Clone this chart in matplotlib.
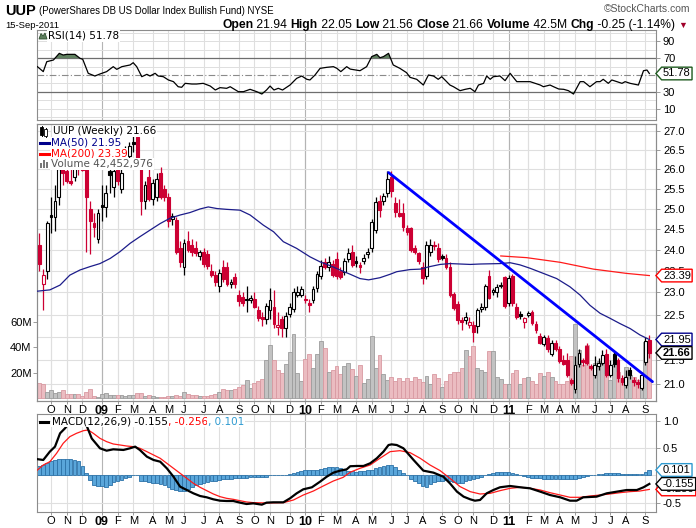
import numpy as np
import pandas as pd
import matplotlib
matplotlib.use("Agg")
import matplotlib.pyplot as plt
from matplotlib import transforms
from matplotlib.path import Path
from matplotlib.lines import Line2D
from matplotlib.patches import Rectangle, Polygon
from matplotlib.ticker import FixedLocator, NullLocator, FuncFormatter

# ---------------- data (weekly bars, UUP) ----------------
START_DATE = "2008-09-15"

OPEN = [24.10, 23.20, 23.50, 24.85, 24.78, 25.30, 26.20, 25.95, 25.70, 25.80,
        26.35, 26.10, 26.00, 25.00, 24.65, 24.25, 25.10, 25.05, 25.95, 25.55,
        26.10, 25.50, 26.50, 26.35, 26.72, 26.85, 26.00, 25.20, 25.80, 25.25,
        25.30, 25.90, 25.50, 25.30, 24.75, 24.72, 24.05, 23.60, 24.20, 24.10,
        24.05, 23.85, 23.95, 23.90, 23.50, 23.40, 23.15, 23.60, 23.60, 23.20,
        23.35, 22.95, 22.90, 22.85, 22.82, 22.85, 22.60, 22.45, 22.40, 22.60,
        22.67, 22.23, 22.41, 22.20, 22.52, 22.63, 22.95, 22.95, 22.85, 22.75,
        22.83, 23.10, 23.37, 23.70, 23.60, 23.65, 23.78, 23.50, 23.48, 23.78,
        23.95, 23.74, 23.64, 23.74, 23.90, 24.05, 24.47, 25.20, 25.20, 25.40,
        25.80, 25.14, 24.90, 24.88, 24.51, 24.51, 24.03, 23.91, 23.60, 23.39,
        23.95, 24.10, 24.03, 23.85, 23.81, 23.60, 22.96, 22.73, 22.39, 22.38,
        22.28, 22.28, 22.25, 22.62, 22.68, 23.38, 23.02, 23.00, 23.15, 23.35,
        22.75, 23.38, 22.68, 22.52, 22.34, 22.49, 22.56, 22.30, 22.02, 21.86,
        21.98, 21.64, 21.88, 21.74, 21.50, 21.50, 21.08, 20.90, 21.43, 21.50,
        21.82, 21.38, 21.20, 21.38, 21.44, 21.63, 21.19, 21.63, 21.50, 21.12,
        20.98, 21.30, 21.08, 21.05, 20.92, 21.47, 21.94]
HIGH = [24.40, 23.55, 24.70, 25.30, 25.60, 26.35, 26.55, 26.15, 26.45, 26.70,
        26.55, 26.60, 26.20, 25.20, 24.90, 25.00, 25.60, 25.60, 26.20, 26.10,
        26.25, 26.00, 26.60, 26.70, 26.90, 27.05, 26.10, 25.70, 26.00, 25.75,
        25.90, 26.05, 25.60, 25.40, 24.90, 24.80, 24.20, 24.25, 24.45, 24.25,
        24.20, 24.00, 24.05, 24.00, 23.65, 23.50, 23.55, 23.75, 23.70, 23.30,
        23.45, 23.05, 23.00, 23.15, 22.95, 23.00, 22.70, 22.55, 22.75, 23.10,
        23.05, 22.55, 22.48, 22.55, 22.75, 23.10, 23.15, 23.15, 22.95, 22.85,
        23.15, 23.50, 23.75, 23.80, 23.85, 23.75, 23.95, 23.60, 23.80, 24.05,
        24.10, 23.85, 23.70, 23.90, 24.05, 24.75, 25.30, 25.35, 25.40, 25.95,
        25.95, 25.30, 25.25, 25.15, 24.60, 24.55, 24.10, 23.95, 23.70, 24.20,
        24.25, 24.20, 24.15, 23.90, 23.90, 23.70, 23.00, 22.80, 22.45, 22.55,
        22.45, 22.35, 22.65, 22.75, 23.20, 23.52, 23.10, 23.20, 23.25, 23.38,
        23.40, 23.42, 22.75, 22.58, 22.45, 22.58, 22.60, 22.35, 22.10, 22.05,
        22.05, 21.95, 21.95, 21.80, 21.62, 21.65, 21.12, 21.60, 21.75, 21.55,
        21.88, 21.42, 21.60, 21.55, 21.72, 21.75, 21.50, 21.70, 21.55, 21.20,
        21.30, 21.35, 21.15, 21.10, 21.25, 22.00, 22.05]
LOW = [23.50, 22.60, 23.30, 24.40, 24.45, 25.10, 25.60, 25.65, 25.60, 25.70,
       25.85, 25.95, 23.95, 23.90, 24.30, 24.15, 24.70, 24.80, 25.40, 25.30,
       25.60, 25.40, 26.10, 26.20, 26.45, 26.15, 24.85, 25.00, 25.20, 25.10,
       25.20, 25.25, 25.20, 24.55, 24.60, 23.90, 23.60, 23.40, 23.95, 23.85,
       23.85, 23.75, 23.60, 23.55, 23.35, 23.15, 23.00, 23.25, 23.15, 23.10,
       23.10, 22.70, 22.70, 22.55, 22.75, 22.65, 22.35, 22.25, 22.30, 22.40,
       22.20, 22.05, 22.00, 22.00, 22.45, 22.55, 22.90, 22.90, 22.75, 22.55,
       22.75, 23.00, 23.30, 23.55, 23.50, 23.35, 23.30, 23.30, 23.40, 23.70,
       23.60, 23.60, 23.45, 23.65, 23.80, 23.95, 24.40, 24.80, 25.10, 25.30,
       25.30, 24.80, 24.80, 24.45, 24.35, 23.95, 23.90, 23.65, 23.20, 23.30,
       23.85, 24.00, 23.70, 23.75, 23.55, 22.90, 22.60, 22.30, 22.16, 22.30,
       22.20, 21.90, 22.10, 22.55, 22.60, 22.85, 22.95, 22.90, 23.10, 22.65,
       22.70, 22.70, 22.40, 22.40, 22.20, 22.45, 22.28, 22.10, 21.85, 21.80,
       21.68, 21.60, 21.70, 21.45, 21.40, 21.15, 20.98, 20.82, 21.35, 21.38,
       21.40, 21.30, 21.12, 21.30, 21.40, 21.15, 21.15, 21.35, 21.05, 20.98,
       20.92, 21.10, 20.95, 20.92, 20.88, 21.40, 21.56]
CLOSE = [23.65, 23.40, 24.65, 24.78, 25.20, 26.00, 25.90, 25.70, 25.65, 26.40,
         26.00, 25.98, 25.30, 24.70, 24.55, 24.90, 25.05, 25.40, 25.85, 25.95,
         25.70, 25.90, 26.35, 26.60, 26.65, 26.20, 25.20, 25.60, 25.25, 25.65,
         25.75, 25.30, 25.28, 24.70, 24.82, 23.95, 23.70, 24.15, 24.00, 23.95,
         23.92, 23.95, 23.65, 23.62, 23.40, 23.25, 23.45, 23.30, 23.20, 23.25,
         23.20, 22.80, 22.75, 22.82, 22.88, 22.68, 22.43, 22.40, 22.70, 22.83,
         22.30, 22.28, 22.20, 22.47, 22.66, 23.00, 23.02, 23.08, 22.82, 22.71,
         23.08, 23.43, 23.62, 23.60, 23.70, 23.41, 23.38, 23.35, 23.72, 23.93,
         23.64, 23.68, 23.60, 23.81, 23.95, 24.67, 25.16, 24.96, 25.32, 25.75,
         25.43, 24.92, 24.82, 24.55, 24.43, 24.00, 23.95, 23.72, 23.33, 24.10,
         24.12, 24.08, 23.78, 23.80, 23.60, 22.95, 22.64, 22.38, 22.34, 22.45,
         22.34, 22.12, 22.60, 22.68, 23.15, 22.88, 23.06, 23.12, 23.18, 22.70,
         23.33, 22.77, 22.44, 22.47, 22.43, 22.53, 22.32, 22.16, 21.88, 22.00,
         21.75, 21.88, 21.74, 21.48, 21.43, 21.20, 21.03, 21.40, 21.66, 21.47,
         21.45, 21.34, 21.40, 21.44, 21.62, 21.19, 21.40, 21.42, 21.12, 21.05,
         21.15, 21.20, 21.04, 21.01, 21.20, 21.91, 21.66]
VOLUME_M = [12.2, 11.5, 5.2, 7.0, 4.4, 5.2, 7.0, 3.6, 3.6, 3.6,
            3.6, 1.8, 5.2, 7.6, 2.3, 1.3, 3.6, 4.4, 2.9, 2.9,
            2.9, 2.9, 2.0, 2.9, 2.9, 4.4, 4.4, 2.0, 2.9, 2.0,
            1.3, 1.3, 1.3, 2.0, 2.0, 2.9, 2.0, 5.2, 3.6, 2.9,
            2.9, 2.0, 2.0, 2.0, 2.9, 3.6, 5.2, 7.6, 7.0, 6.3,
            7.6, 8.9, 10.2, 14.6, 8.3, 12.2, 13.3, 15.3, 30.2, 42.2,
            30.2, 22.4, 20.0, 27.1, 36.5, 50.8, 20.0, 13.3, 30.9, 35.2,
            23.9, 35.2, 45.1, 39.6, 21.0, 22.4, 25.8, 18.8, 25.8, 27.9,
            23.0, 17.5, 26.0, 12.0, 15.0, 49.0, 24.0, 34.4, 18.8, 14.8,
            17.0, 14.0, 16.0, 13.5, 16.0, 14.0, 16.5, 15.0, 13.0, 18.0,
            11.5, 18.8, 16.0, 8.8, 13.5, 18.8, 20.5, 21.0, 24.0, 38.0,
            33.5, 41.4, 24.0, 22.0, 20.5, 37.5, 37.0, 16.5, 15.5, 11.5,
            11.0, 20.0, 22.0, 11.0, 16.0, 17.0, 14.0, 11.5, 20.0, 17.5,
            20.5, 17.0, 14.0, 11.0, 11.0, 13.5, 33.0, 58.5, 38.0, 26.0,
            42.0, 25.0, 28.0, 29.0, 27.0, 19.0, 14.5, 27.0, 21.0, 14.5,
            24.5, 18.5, 17.0, 14.5, 16.0, 44.0, 42.45]

MA50_WEEK = [-0.5, 2.7, 5.3, 7.8, 10.4, 13.0, 15.5, 18.1, 20.6, 23.2,
             25.7, 28.3, 30.9, 33.4, 36.0, 38.5, 41.1, 43.2, 45.4, 47.9,
             51.3, 53.9, 57.3, 59.9, 62.4, 65.8, 69.2, 71.8, 74.4, 76.9,
             79.5, 82.0, 84.2, 87.1, 89.7, 91.4, 94.8, 97.4, 99.9, 102.5,
             105.0, 110.2, 112.7, 117.8, 120.4, 122.9, 125.5, 128.9, 132.3, 135.7,
             138.3, 140.8, 143.4, 145.9, 148.5, 151.1, 153.6, 156.0]
MA50_VAL = [23.03, 23.06, 23.17, 23.40, 23.52, 23.60, 23.67, 23.79, 23.95, 24.15,
            24.31, 24.47, 24.63, 24.76, 24.84, 24.90, 24.99, 25.04, 25.00, 24.98,
            24.96, 24.84, 24.59, 24.43, 24.19, 24.03, 23.83, 23.71, 23.62, 23.52,
            23.42, 23.32, 23.29, 23.34, 23.42, 23.48, 23.53, 23.54, 23.60, 23.65,
            23.67, 23.65, 23.66, 23.67, 23.69, 23.64, 23.56, 23.44, 23.32, 23.13,
            22.94, 22.71, 22.53, 22.42, 22.30, 22.19, 22.05, 21.95]
MA200_WEEK = [118.0, 124.6, 133.2, 141.7, 150.2, 156.0]
MA200_VAL = [23.85, 23.81, 23.70, 23.54, 23.44, 23.39]

TREND_WEEK = [89.3, 156.8]
TREND_PRICE = [25.91, 21.05]

RSI_WEEK = [-0.5, 1.0, 1.9, 3.6, 5.1, 6.1, 7.0, 9.1, 10.4, 11.1,
            12.5, 14.2, 15.5, 17.2, 18.9, 19.8, 21.1, 23.2, 24.0, 24.9,
            26.2, 27.5, 28.3, 29.6, 30.4, 31.7, 33.0, 34.3, 35.5, 36.4,
            37.3, 39.0, 40.2, 41.9, 43.7, 45.0, 46.2, 47.9, 48.8, 50.9,
            52.2, 53.9, 55.6, 56.9, 58.1, 59.0, 60.0, 61.1, 62.2, 64.1,
            65.8, 67.1, 68.4, 69.2, 70.5, 71.8, 73.5, 75.2, 76.1, 77.1,
            78.6, 79.5, 82.0, 83.7, 85.0, 86.3, 87.1, 88.0, 89.3, 90.5,
            92.2, 93.9, 94.8, 96.5, 98.2, 99.5, 100.8, 102.0, 102.9, 105.0,
            105.9, 107.6, 108.9, 110.2, 111.4, 112.3, 113.6, 114.4, 115.3, 116.1,
            117.8, 119.1, 120.4, 122.1, 123.8, 125.5, 126.8, 128.1, 128.9, 130.6,
            131.5, 132.8, 134.1, 135.3, 136.6, 138.3, 139.2, 140.8, 142.5, 143.4,
            144.2, 145.5, 146.4, 147.7, 149.0, 149.8, 151.1, 153.2, 154.5, 155.4,
            156.0]
RSI_VAL = [59.9, 54.0, 65.8, 67.8, 75.7, 73.7, 74.5, 74.5, 69.8, 68.6,
           52.0, 48.8, 51.2, 54.0, 59.9, 56.7, 59.9, 61.9, 64.6, 59.9,
           48.0, 50.8, 48.8, 52.0, 48.8, 48.0, 44.1, 42.1, 36.1, 35.4,
           40.1, 39.3, 39.3, 40.1, 36.9, 32.2, 35.0, 34.2, 36.1, 30.2,
           30.2, 33.0, 30.2, 27.4, 32.2, 36.9, 32.2, 34.2, 32.2, 38.1,
           46.0, 48.8, 44.9, 44.1, 50.0, 57.9, 59.1, 59.9, 57.9, 54.0,
           59.9, 57.0, 55.1, 59.9, 71.8, 74.5, 70.5, 71.8, 75.7, 61.9,
           57.9, 52.8, 47.2, 44.9, 38.1, 50.0, 48.8, 44.9, 48.0, 38.1,
           36.1, 31.4, 33.0, 34.2, 30.2, 38.1, 40.1, 48.8, 44.9, 48.0,
           48.8, 43.3, 52.0, 42.1, 42.1, 42.1, 40.1, 38.1, 36.1, 38.1,
           36.1, 33.4, 33.0, 31.4, 27.4, 42.1, 42.1, 36.1, 42.1, 42.1,
           44.9, 40.1, 44.1, 42.1, 40.1, 42.1, 40.1, 38.1, 55.1, 55.9,
           51.78]

MACD_WEEK = [-0.5, 1.0, 2.7, 4.0, 5.3, 6.6, 8.0, 9.5, 11.0, 11.9,
             13.4, 15.5, 17.2, 18.9, 21.5, 23.2, 24.5, 25.7, 27.5, 29.2,
             30.9, 32.6, 34.3, 36.0, 37.7, 39.4, 41.1, 42.8, 44.5, 46.2,
             47.9, 49.6, 51.3, 53.0, 54.7, 56.9, 58.1, 59.8, 62.4, 64.1,
             65.8, 67.5, 69.7, 71.8, 73.5, 75.2, 76.9, 78.6, 79.5, 81.2,
             82.9, 84.6, 86.3, 88.0, 89.3, 90.1, 91.4, 93.1, 95.7, 98.2,
             100.8, 103.3, 105.0, 106.8, 108.5, 110.2, 111.4, 112.7, 114.4, 116.1,
             117.8, 120.4, 123.0, 125.5, 128.1, 130.6, 133.2, 135.7, 137.4, 139.1,
             142.5, 145.1, 147.7, 150.2, 152.8, 154.5, 156.0]
MACD_VAL = [0.30, 0.285, 0.44, 0.53, 0.775, 0.87, 1.00, 1.06, 1.02, 0.95,
            0.68, 0.50, 0.456, 0.481, 0.469, 0.50, 0.53, 0.469, 0.346, 0.285,
            0.254, 0.132, -0.022, -0.205, -0.267, -0.328, -0.377, -0.401, -0.438, -0.463,
            -0.469, -0.469, -0.499, -0.524, -0.512, -0.536, -0.499, -0.493, -0.493, -0.42,
            -0.328, -0.254, -0.217, -0.113, -0.022, 0.052, 0.089, 0.113, 0.17, 0.175,
            0.175, 0.224, 0.316, 0.438, 0.56, 0.572, 0.56, 0.50, 0.285, 0.089,
            0.052, -0.022, -0.144, -0.297, -0.389, -0.438, -0.463, -0.450, -0.328, -0.267,
            -0.217, -0.193, -0.217, -0.236, -0.297, -0.359, -0.401, -0.463, -0.463, -0.401,
            -0.389, -0.328, -0.297, -0.267, -0.267, -0.217, -0.155]
SIGNAL_WEEK = [-0.5, 1.0, 2.7, 4.4, 6.1, 7.8, 9.5, 11.3, 12.5, 13.8,
               15.5, 17.2, 18.9, 20.6, 22.3, 24.0, 25.7, 27.5, 29.2, 30.9,
               32.6, 34.3, 36.0, 37.7, 39.4, 41.1, 42.8, 44.5, 46.2, 47.9,
               49.6, 51.3, 53.0, 54.7, 58.1, 62.4, 65.0, 67.5, 70.1, 72.6,
               75.2, 77.7, 79.5, 82.0, 84.6, 87.1, 89.7, 92.2, 94.8, 97.4,
               99.9, 102.5, 105.0, 107.6, 110.2, 112.7, 115.3, 117.8, 120.4, 123.0,
               125.5, 128.1, 130.6, 133.2, 135.7, 138.3, 140.8, 143.4, 145.9, 148.5,
               151.0, 153.6, 156.0]
SIGNAL_VAL = [0.10, 0.193, 0.254, 0.407, 0.591, 0.714, 0.775, 0.824, 0.836, 0.775,
              0.683, 0.622, 0.579, 0.561, 0.542, 0.530, 0.50, 0.438, 0.377, 0.316,
              0.224, 0.132, 0.040, -0.052, -0.144, -0.217, -0.279, -0.340, -0.389, -0.42,
              -0.438, -0.463, -0.487, -0.499, -0.505, -0.499, -0.450, -0.359, -0.285, -0.193,
              -0.101, -0.034, 0.06, 0.132, 0.193, 0.316, 0.438, 0.456, 0.420, 0.316,
              0.193, 0.089, -0.052, -0.205, -0.297, -0.340, -0.328, -0.279, -0.236, -0.217,
              -0.236, -0.267, -0.316, -0.359, -0.401, -0.401, -0.377, -0.359, -0.340, -0.316,
              -0.297, -0.285, -0.256]
HIST = [0.17, 0.20, 0.23, 0.26, 0.28, 0.31, 0.31, 0.31, 0.30, 0.29,
        0.26, 0.17, 0.05, -0.08, -0.17, -0.19, -0.20, -0.21, -0.17, -0.12,
        -0.10, -0.08, -0.05, -0.03, 0.0, 0.0, -0.10, -0.11, -0.12, -0.13,
        -0.14, -0.16, -0.17, -0.21, -0.24, -0.27, -0.29, -0.28, -0.24, -0.21,
        -0.18, -0.16, -0.13, -0.12, -0.10, -0.10, -0.09, -0.07, -0.06, -0.06,
        -0.05, -0.04, -0.04, -0.04, -0.03, -0.03, -0.03, -0.03, -0.02, 0.0,
        0.0, 0.0, 0.0, 0.01, 0.03, 0.05, 0.07, 0.09, 0.10, 0.10,
        0.10, 0.10, 0.12, 0.14, 0.15, 0.15, 0.15, 0.13, 0.11, 0.09,
        0.08, 0.07, 0.08, 0.09, 0.10, 0.11, 0.13, 0.15, 0.17, 0.20,
        0.19, 0.15, 0.10, 0.05, 0.0, -0.06, -0.10, -0.14, -0.19, -0.21,
        -0.15, -0.12, -0.11, -0.10, -0.08, -0.10, -0.12, -0.13, -0.13, -0.10,
        -0.08, -0.06, -0.04, -0.02, 0.0, 0.02, 0.04, 0.06, 0.07, 0.07,
        0.06, 0.05, 0.03, 0.0, -0.01, -0.02, -0.04, -0.05, -0.05, -0.06,
        -0.06, -0.07, -0.07, -0.07, -0.07, -0.07, -0.07, -0.07, -0.05, -0.02,
        -0.01, 0.0, 0.0, 0.02, 0.03, 0.04, 0.04, 0.05, 0.04, 0.03,
        0.03, 0.03, 0.03, 0.03, 0.03, 0.07, 0.101]

# ---------------- styling ----------------
W, H = 696, 528
RED = "#cc0033"
NAVY = "#1c1c8a"
GRID = "#dfdfdf"
YEAR_GRID = "#b4b4b4"
SPINE = "#8c8c8c"
SANS = ["Liberation Sans", "DejaVu Sans"]
LEG = ["DejaVu Sans"]
XLIM = (-0.6, 157.7)

fig = plt.figure(figsize=(W / 100, H / 100), dpi=100)
fig.patch.set_facecolor("white")


def rect(x0, y0, x1, y1):
    return [x0 / W, 1 - y1 / H, (x1 - x0) / W, (y1 - y0) / H]


def fxy(x, y):
    return x / W, 1 - y / H


def tag_box(x0, y0, width, height, mutation_size):
    pad = mutation_size * 0.12
    x0, y0 = x0 - pad, y0 - pad
    w, h = width + 2 * pad, height + 2 * pad
    tip = h * 0.45
    verts = [(x0 - tip, y0 + h / 2), (x0, y0), (x0 + w, y0), (x0 + w, y0 + h),
             (x0, y0 + h), (x0 - tip, y0 + h / 2)]
    return Path(verts, [Path.MOVETO] + [Path.LINETO] * 4 + [Path.CLOSEPOLY])


def value_tag(a, yval, label, edge, bold=False):
    a.annotate(label, xy=(1.0, yval), xycoords=("axes fraction", "data"),
               xytext=(5, 0), textcoords="offset points", ha="left", va="center",
               fontsize=8, family=SANS, fontweight="bold" if bold else "normal",
               annotation_clip=False, zorder=10,
               bbox=dict(boxstyle=tag_box, fc="white", ec=edge, lw=1.0))


weeks = np.arange(len(CLOSE))
dates = pd.date_range(START_DATE, periods=len(CLOSE), freq="W-MON")
month_pos, month_lab, month_year = [], [], []
for i in range(1, len(dates)):
    if dates[i].month != dates[i - 1].month:
        month_pos.append(i)
        if dates[i].month == 1:
            month_lab.append(dates[i].strftime("%y"))
            month_year.append(True)
        else:
            month_lab.append(dates[i].strftime("%b")[0])
            month_year.append(False)


def panel(a, grid_axes=None):
    a.set_xlim(*XLIM)
    for s in a.spines.values():
        s.set_color(SPINE)
        s.set_linewidth(0.8)
    g = grid_axes if grid_axes is not None else a
    for p, yr in zip(month_pos, month_year):
        g.axvline(p, color=YEAR_GRID if yr else GRID, lw=0.8, zorder=0)


def month_labels(a):
    a.set_xticks(month_pos)
    a.set_xticklabels(month_lab)
    a.tick_params(axis="x", length=2, width=0.6, color=SPINE, pad=1.0, labelsize=8)
    for lbl, yr in zip(a.get_xticklabels(), month_year):
        lbl.set_family(SANS)
        if yr:
            lbl.set_fontweight("bold")
            lbl.set_fontsize(9)


# ---------------- RSI panel ----------------
ax_rsi = fig.add_axes(rect(37, 30, 656, 120))
panel(ax_rsi)
ax_rsi.set_ylim(-3.4, 103.4)
for lvl in range(0, 101, 10):
    if lvl in (30, 70):
        ax_rsi.axhline(lvl, color="#6e6e6e", lw=0.9, zorder=1)
    elif lvl == 50:
        ax_rsi.axhline(lvl, color="#8a8a8a", lw=0.8, ls=(0, (6, 2, 1, 2)), zorder=1)
    else:
        ax_rsi.axhline(lvl, color=GRID, lw=0.7, zorder=0)
rsi_w = np.array(RSI_WEEK)
rsi_v = np.array(RSI_VAL)
ax_rsi.fill_between(rsi_w, rsi_v, 70, where=rsi_v > 70, interpolate=True,
                    color="#5f805f", lw=0, zorder=2)
ax_rsi.fill_between(rsi_w, rsi_v, 30, where=rsi_v < 30, interpolate=True,
                    color="#5f805f", lw=0, zorder=2)
ax_rsi.plot(rsi_w, rsi_v, color="black", lw=0.9, zorder=3)
ax_rsi.set_xticks([])
ax_rsi.yaxis.tick_right()
ax_rsi.set_yticks([90, 70, 30, 10])
ax_rsi.tick_params(axis="y", length=3, width=0.6, color=SPINE, pad=2, labelsize=8)
for lbl in ax_rsi.get_yticklabels():
    lbl.set_family(SANS)
fig.text(*fxy(48, 36), "RSI(14) 51.78", ha="left", va="center", fontsize=7.5,
         family=LEG, bbox=dict(fc="white", ec="none", pad=0.6), zorder=20)
fig.add_artist(Polygon([fxy(39, 39), fxy(41, 33.5), fxy(43, 36), fxy(45, 33), fxy(47, 39)],
                       closed=True, fc="#5f805f", ec="#2f4f2f", lw=0.6,
                       transform=fig.transFigure, zorder=21))
value_tag(ax_rsi, RSI_VAL[-1], "51.78", "#1e5a1e")

# ---------------- price + volume panel ----------------
ax_vol = fig.add_axes(rect(37, 124, 656, 401))
ax = fig.add_axes(rect(37, 124, 656, 401), sharex=ax_vol)
ax.patch.set_visible(False)
panel(ax_vol)
panel(ax, grid_axes=ax_vol)

ax.set_yscale("log")
ax.set_ylim(20.65, 27.19)
price_ticks = np.arange(21.0, 27.01, 0.5)
ax.yaxis.set_major_locator(FixedLocator(price_ticks))
ax.yaxis.set_minor_locator(NullLocator())
# the 22.0 label sits fully under the MA(50) value tag, as in the original
ax.yaxis.set_major_formatter(FuncFormatter(lambda v, _: "" if abs(v - 22.0) < 1e-6 else f"{v:.1f}"))
ax.yaxis.tick_right()
ax.tick_params(axis="y", length=3, width=0.6, color=SPINE, pad=2, labelsize=8)
for lbl in ax.get_yticklabels():
    lbl.set_family(SANS)
ax.tick_params(axis="x", bottom=False, labelbottom=False)

trans_grid = transforms.blended_transform_factory(ax_vol.transAxes, ax.transData)
for p in price_ticks:
    ax_vol.plot([0, 1], [p, p], transform=trans_grid, color=GRID, lw=0.8, zorder=0)

o = np.array(OPEN)
h = np.array(HIGH)
l = np.array(LOW)
c = np.array(CLOSE)
prev_close = np.r_[o[0], c[:-1]]
is_red = c < prev_close
hollow = c > o
col = np.where(is_red, RED, "black")

vol = np.array(VOLUME_M)
ax_vol.set_ylim(-2.0, 215.3)
ax_vol.bar(weeks, vol, width=1.0,
           color=np.where(is_red, "#ebbcc1", "#c2c2c2"),
           edgecolor=np.where(is_red, "#d99aa2", "#9c9c9c"), linewidth=0.6, zorder=1)
ax_vol.yaxis.tick_left()
ax_vol.set_yticks([20, 40, 60])
ax_vol.set_yticklabels(["20M", "40M", "60M"])
ax_vol.tick_params(axis="y", length=3, width=0.6, color=SPINE, pad=1, labelsize=8)
for lbl in ax_vol.get_yticklabels():
    lbl.set_family(SANS)
month_labels(ax_vol)

ax.vlines(weeks, l, h, colors=col, lw=0.9, zorder=2)
body_lo = np.minimum(o, c)
body_h = np.maximum(np.abs(c - o), 0.012)
ax.bar(weeks, body_h, bottom=body_lo, width=0.72,
       color=np.where(hollow, "white", col), edgecolor=col, linewidth=0.8, zorder=3)

ax.plot(MA50_WEEK, MA50_VAL, color=NAVY, lw=0.9, zorder=4)
ax.plot(MA200_WEEK, MA200_VAL, color="#ff1a1a", lw=0.9, zorder=4)
ax.plot(TREND_WEEK, TREND_PRICE, color="#0000ff", lw=2.0, zorder=5, solid_capstyle="round")

leg_box = dict(fc="white", ec="none", pad=0.5)
legend_lines = [
    ("UUP (Weekly) 21.66", "black", 131.5, 53),
    ("MA(50) 21.95", "#00008b", 142.5, 51),
    ("MA(200) 23.39", "#ff0000", 153.5, 51),
    ("Volume 42,452,976", "#555555", 164.0, 51),
]
for txt, tc, ypx, xpx in legend_lines:
    fig.text(*fxy(xpx, ypx), txt, ha="left", va="center", fontsize=7.5, family=LEG,
             color=tc, bbox=leg_box, zorder=20)
# legend icons
for x0, top, bot, fill in [(41.5, 127, 135, "black"), (45.5, 129, 136, "white")]:
    fig.add_artist(Line2D([fxy(x0, 0)[0]] * 2, [fxy(0, top - 1)[1], fxy(0, bot + 1)[1]],
                          color="black", lw=0.7, transform=fig.transFigure, zorder=21))
    fig.add_artist(Rectangle(fxy(x0 - 1.2, bot), 2.4 / W, (bot - top) / H, fc=fill,
                             ec="black", lw=0.6, transform=fig.transFigure, zorder=22))
for ypx, lc in [(142.5, "#00008b"), (153.5, "#ff0000")]:
    fig.add_artist(Line2D([fxy(40, 0)[0], fxy(49, 0)[0]], [fxy(0, ypx)[1]] * 2,
                          color=lc, lw=2.2, transform=fig.transFigure, zorder=21))
for xb, hb in [(41, 5), (44, 8), (47, 6)]:
    fig.add_artist(Rectangle(fxy(xb - 1, 168), 2.2 / W, hb / H, fc="#777777", ec="none",
                             transform=fig.transFigure, zorder=21))

value_tag(ax, MA200_VAL[-1], "23.39", "#ff0000")
value_tag(ax, MA50_VAL[-1], "21.95", "#00008b")
value_tag(ax, CLOSE[-1], "21.66", "black", bold=True)

# ---------------- MACD panel ----------------
ax_macd = fig.add_axes(rect(37, 414, 656, 512))
panel(ax_macd)
ax_macd.set_ylim(-0.671, 1.13)
for lvl in (-0.5, 0.0, 0.5, 1.0):
    ax_macd.axhline(lvl, color=GRID, lw=0.8, zorder=0)
ax_macd.bar(weeks, HIST, width=0.95, color="#5aa6da", edgecolor="#2c72a8",
            linewidth=0.6, zorder=2)
ax_macd.plot(SIGNAL_WEEK, SIGNAL_VAL, color="#ff1a1a", lw=0.9, zorder=3)
ax_macd.plot(MACD_WEEK, MACD_VAL, color="black", lw=1.6, zorder=4)
ax_macd.yaxis.tick_right()
ax_macd.set_yticks([1.0, 0.5, -0.5])
ax_macd.set_yticklabels(["1.0", "0.5", "-0.5"])
ax_macd.tick_params(axis="y", length=3, width=0.6, color=SPINE, pad=2, labelsize=8)
for lbl in ax_macd.get_yticklabels():
    lbl.set_family(SANS)
month_labels(ax_macd)

macd_box = dict(fc="white", ec="none", pad=0.5)
fig.add_artist(Line2D([fxy(40, 0)[0], fxy(48, 0)[0]], [fxy(0, 421.5)[1]] * 2,
                      color="black", lw=2.2, transform=fig.transFigure, zorder=21))
m1 = fig.text(*fxy(52, 421.5), "MACD(12,26,9) -0.155", ha="left", va="center",
              fontsize=7.5, family=LEG, color="black", bbox=macd_box, zorder=20)
m2 = ax_macd.annotate(", -0.256", xy=(1, 0), xycoords=m1, ha="left", va="bottom",
                      fontsize=7.5, family=LEG, color="#ff0000", bbox=macd_box,
                      annotation_clip=False, zorder=20)
m3 = ax_macd.annotate(", 0.101", xy=(1, 0), xycoords=m2, ha="left", va="bottom",
                      fontsize=7.5, family=LEG, color="#2e9ad0", bbox=macd_box,
                      annotation_clip=False, zorder=20)

value_tag(ax_macd, SIGNAL_VAL[-1], "-0.256", "#ff0000")
value_tag(ax_macd, HIST[-1], "0.101", "#2e9ad0")
value_tag(ax_macd, MACD_VAL[-1], "-0.155", "black")

# ---------------- header ----------------
fig.text(*fxy(5, 15), "UUP", ha="left", va="baseline", fontsize=10.5,
         fontweight="bold", family=SANS)
fig.text(*fxy(39, 14), "(PowerShares DB US Dollar Index Bullish Fund) NYSE", ha="left",
         va="baseline", fontsize=6.9, family=SANS)
fig.text(*fxy(690, 12.5), "\u00a9StockCharts.com", ha="right", va="baseline",
         fontsize=7.5, family=SANS, color="#555555")
fig.text(*fxy(5, 28), "15-Sep-2011", ha="left", va="baseline", fontsize=6.8, family=SANS)

pieces = [("Open", "bold"), (" 21.94 ", "normal"), ("High", "bold"), (" 22.05 ", "normal"),
          ("Low", "bold"), (" 21.56 ", "normal"), ("Close", "bold"), (" 21.66 ", "normal"),
          ("Volume", "bold"), (" 42.5M ", "normal"), ("Chg", "bold"),
          (" -0.25 (-1.14%)", "normal")]
prev = fig.text(*fxy(675, 28), pieces[-1][0], ha="right", va="baseline", fontsize=8.7,
                fontweight=pieces[-1][1], family=SANS)
for txt, wt in reversed(pieces[:-1]):
    prev = ax_rsi.annotate(txt, xy=(0, 0), xycoords=prev, ha="right", va="bottom",
                           fontsize=8.7, fontweight=wt, family=SANS, annotation_clip=False)
fig.text(*fxy(678, 28), "\u25bc", ha="left", va="baseline", fontsize=6.5,
         color="#a0002a", family=SANS)

fig.savefig("out.png", dpi=100, facecolor="white")
